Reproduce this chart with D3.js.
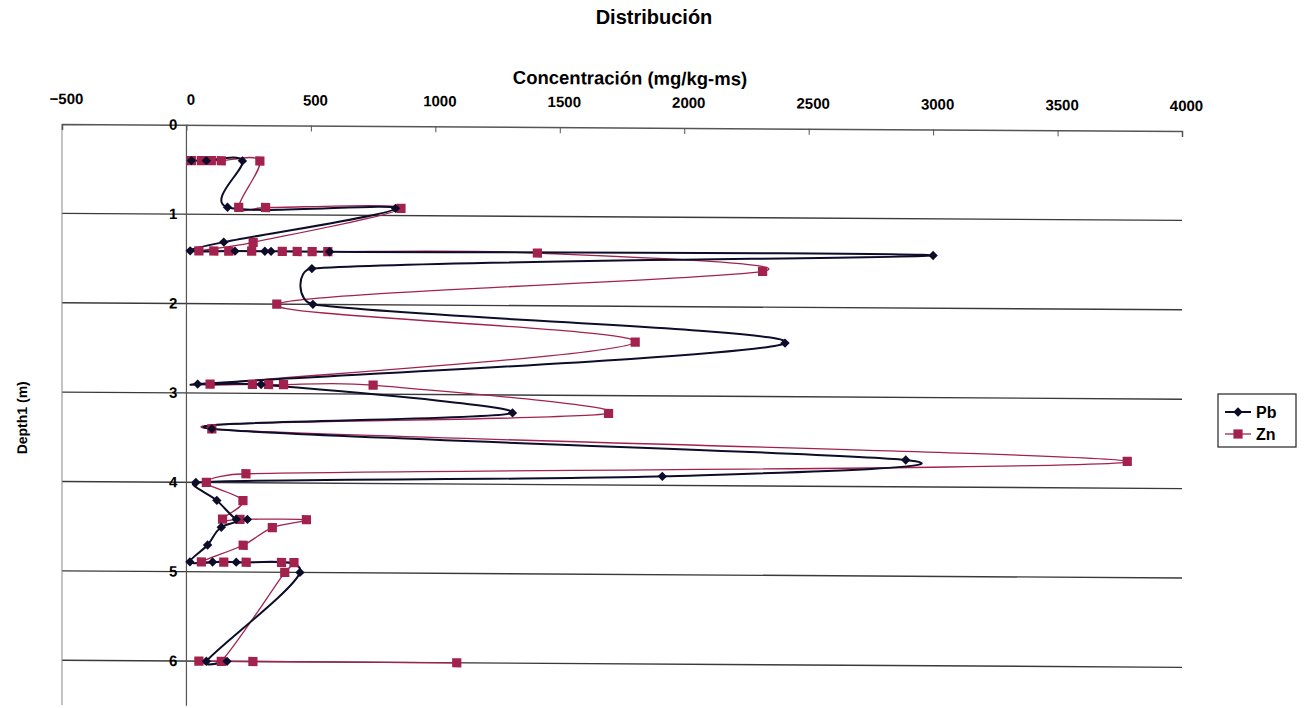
<!DOCTYPE html>
<html>
<head>
<meta charset="utf-8">
<script src="https://cdn.jsdelivr.net/npm/d3@7"></script>
<style>
  body { margin: 0; background: #fff; }
  text { font-family: "Liberation Sans", Arial, sans-serif; }
</style>
</head>
<body>
<svg id="chart" width="1308" height="708"></svg>
<script>
// Concentration axis ticks and depth ticks
const concTicks = [-500, 0, 500, 1000, 1500, 2000, 2500, 3000, 3500, 4000];
const depthTicks = [0, 1, 2, 3, 4, 5, 6];

// Pb profile (depth in m, concentration in mg/kg-ms), in sampling order
const pbDepth = [0.4, 0.4, 0.4, 0.92, 0.92, 1.31, 1.41, 1.41, 1.41, 1.41, 1.41, 1.41,
  1.6, 2.0, 2.4, 2.9, 2.9, 3.2, 3.4, 3.7, 3.9, 4.0, 4.2, 4.41, 4.41, 4.5, 4.7,
  4.89, 4.89, 4.89, 5.0, 6.0, 6.0];
const pbValue = [20, 80, 225, 165, 840, 150, 15, 195, 315, 340, 575, 3000,
  504, 508, 2405, 45, 300, 1310, 102, 2890, 1912, 38, 122, 200, 245, 140, 85,
  14, 105, 200, 456, 80, 163];

// Zn profile (depth in m, concentration in mg/kg-ms), in sampling order
const znDepth = [0.4, 0.4, 0.4, 0.4, 0.4, 0.92, 0.92, 0.92, 1.31,
  1.41, 1.41, 1.41, 1.41, 1.41, 1.41, 1.41, 1.41, 1.41,
  1.6, 2.0, 2.4, 2.9, 2.9, 2.9, 2.9, 2.9, 3.2, 3.4, 3.7, 3.9, 4.0, 4.2,
  4.41, 4.41, 4.41, 4.5, 4.7, 4.89, 4.89, 4.89, 4.89, 4.89, 5.0,
  6.0, 6.0, 6.0, 6.0];
const znValue = [20, 60, 100, 140, 295, 210, 318, 862, 268,
  50, 110, 170, 262, 385, 445, 505, 568, 1410,
  2315, 363, 1803, 95, 265, 330, 390, 750, 1696, 102, 3780, 239, 80, 227,
  145, 215, 482, 345, 228, 60, 150, 240, 382, 432, 395,
  140, 50, 267, 1086];

const seriesNames = ["Pb", "Zn"];
const seriesColors = ["#0d0d2b", "#a3224d"];

// Smoothed line: cubic Bezier segments whose control points follow the
// neighbouring points (one sixth of the chord), capped by the segment length
function smoothCurve(context) {
  let pts = [];
  return {
    areaStart() {}, areaEnd() {},
    lineStart() { pts = []; },
    point(px, py) { pts.push([+px, +py]); },
    lineEnd() {
      const n = pts.length;
      if (!n) return;
      context.moveTo(pts[0][0], pts[0][1]);
      if (n === 1) return;
      const tangent = i => {
        const a = pts[Math.max(i - 1, 0)], b = pts[Math.min(i + 1, n - 1)];
        return [(b[0] - a[0]) / 6, (b[1] - a[1]) / 6];
      };
      for (let i = 0; i < n - 1; i++) {
        const p0 = pts[i], p1 = pts[i + 1];
        const len = Math.hypot(p1[0] - p0[0], p1[1] - p0[1]);
        const cap = t => {
          const m = Math.hypot(t[0], t[1]), lim = len * 0.45;
          return m > lim && m > 0 ? [t[0] * lim / m, t[1] * lim / m] : t;
        };
        const t0 = cap(tangent(i)), t1 = cap(tangent(i + 1));
        context.bezierCurveTo(p0[0] + t0[0], p0[1] + t0[1],
          p1[0] - t1[0], p1[1] - t1[1], p1[0], p1[1]);
      }
    }
  };
}

const svg = d3.select("#chart");
const plotLeft = 62, plotRight = 1182, plotTop = 124, plotBottom = 705;

const x = d3.scaleLinear().domain([-500, 4000]).range([plotLeft, plotRight]);
const y = d3.scaleLinear().domain([0, 6.5]).range([plotTop, plotBottom]);

// Title
svg.append("text")
  .attr("x", 654).attr("y", 24)
  .attr("text-anchor", "middle")
  .attr("font-size", 20).attr("font-weight", "bold")
  .text("Distribución");

// Chart body, with a slight downward slope to the right
const g = svg.append("g")
  .attr("transform", `translate(${plotLeft},${plotTop}) skewY(0.36) translate(${-plotLeft},${-plotTop})`);

// Axis title
g.append("text")
  .attr("x", 630).attr("y", 81)
  .attr("text-anchor", "middle")
  .attr("font-size", 18.5).attr("font-weight", "bold")
  .text("Concentración (mg/kg-ms)");

// Horizontal gridlines at each depth
g.append("g").selectAll("line").data(depthTicks.slice(1)).join("line")
  .attr("x1", plotLeft).attr("x2", plotRight)
  .attr("y1", d => y(d)).attr("y2", d => y(d))
  .attr("stroke", "#3a3a3a").attr("stroke-width", 1.4);

// Left border of the plot area
g.append("line")
  .attr("x1", plotLeft).attr("x2", plotLeft).attr("y1", plotTop).attr("y2", plotBottom)
  .attr("stroke", "#8a8a8a").attr("stroke-width", 1);

// Depth axis, crossing at zero concentration
g.append("line")
  .attr("x1", x(0)).attr("x2", x(0)).attr("y1", plotTop).attr("y2", plotBottom)
  .attr("stroke", "#555").attr("stroke-width", 1.2);

// Concentration axis on top
const xAxis = d3.axisTop(x).tickValues(concTicks).tickSize(-6).tickPadding(20)
  .tickFormat(d3.format("d"));
const xa = g.append("g").attr("transform", `translate(0,${plotTop})`).call(xAxis);
xa.select(".domain").attr("stroke", "#555").attr("stroke-width", 1.5);
xa.selectAll(".tick line").attr("stroke", "#555");
xa.selectAll(".tick text")
  .attr("font-size", 15).attr("font-weight", "bold").attr("fill", "#000")
  .attr("dx", 4)
  .attr("font-family", "\"Liberation Sans\", Arial, sans-serif");

// Depth tick labels beside the zero line
g.append("g").selectAll("text").data(depthTicks).join("text")
  .attr("x", x(0) - 9).attr("y", d => y(d) + 5)
  .attr("text-anchor", "end")
  .attr("font-size", 15).attr("font-weight", "bold")
  .text(d => d);

// Depth axis title
g.append("text")
  .attr("transform", `translate(27,418) rotate(-90)`)
  .attr("text-anchor", "middle")
  .attr("font-size", 14).attr("font-weight", "bold")
  .text("Depth1 (m)");

// Series
const pb = pbDepth.map((d, i) => ({ d, v: pbValue[i] }));
const zn = znDepth.map((d, i) => ({ d, v: znValue[i] }));

const line = d3.line()
  .x(p => x(p.v)).y(p => y(p.d))
  .curve(smoothCurve);

g.append("path").datum(zn)
  .attr("d", line).attr("fill", "none")
  .attr("stroke", seriesColors[1]).attr("stroke-width", 1.3);
g.append("path").datum(pb)
  .attr("d", line).attr("fill", "none")
  .attr("stroke", seriesColors[0]).attr("stroke-width", 2);

const diamond = d3.symbol().type(d3.symbolSquare).size(44);
const square = d3.symbol().type(d3.symbolSquare).size(85);

g.append("g").selectAll("path").data(zn).join("path")
  .attr("d", square)
  .attr("transform", p => `translate(${x(p.v)},${y(p.d)})`)
  .attr("fill", seriesColors[1]);
g.append("g").selectAll("path").data(pb).join("path")
  .attr("d", diamond)
  .attr("transform", p => `translate(${x(p.v)},${y(p.d)}) rotate(45)`)
  .attr("fill", seriesColors[0]);

// Legend
const lg = svg.append("g").attr("transform", "translate(1218,394)");
lg.append("rect").attr("width", 78).attr("height", 53)
  .attr("fill", "#fff").attr("stroke", "#222").attr("stroke-width", 1.2);
seriesNames.forEach((name, i) => {
  const ly = 18 + i * 22;
  lg.append("line").attr("x1", 7).attr("x2", 33).attr("y1", ly).attr("y2", ly)
    .attr("stroke", seriesColors[i]).attr("stroke-width", i === 0 ? 2 : 1.3);
  lg.append("path")
    .attr("d", i === 0 ? diamond : square)
    .attr("transform", `translate(20,${ly})` + (i === 0 ? " rotate(45)" : ""))
    .attr("fill", seriesColors[i]);
  lg.append("text").attr("x", 38).attr("y", ly + 6)
    .attr("font-size", 16).attr("font-weight", "bold")
    .text(name);
});
</script>
</body>
</html>
